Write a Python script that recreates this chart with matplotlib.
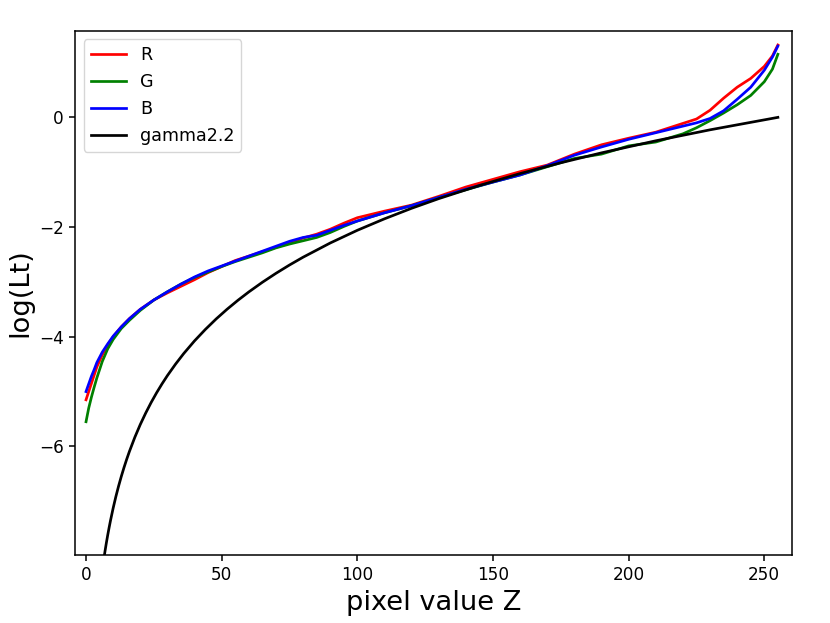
import numpy as np
import matplotlib
matplotlib.use('Agg')
import matplotlib.pyplot as plt

# valores de pixel donde se leyeron las curvas
z = [0, 1, 2, 3, 4, 6, 8, 10, 13, 16, 20, 25, 30, 35, 40, 45, 50, 55, 60, 65, 70, 75,
     80, 85, 90, 95, 100, 110, 120, 130, 140, 150, 160, 170, 180, 190, 200, 210,
     220, 225, 230, 235, 240, 245, 250, 253, 255]

log_r = [-5.15, -5.00, -4.85, -4.70, -4.55, -4.33, -4.15, -4.00, -3.82, -3.67, -3.50, -3.33,
         -3.20, -3.08, -2.96, -2.83, -2.72, -2.61, -2.53, -2.45, -2.37, -2.29,
         -2.20, -2.13, -2.04, -1.93, -1.83, -1.71, -1.60, -1.44, -1.27, -1.13,
         -0.99, -0.87, -0.67, -0.50, -0.38, -0.27, -0.11, -0.03, 0.13, 0.35,
         0.55, 0.71, 0.93, 1.12, 1.32]

log_g = [-5.55, -5.30, -5.10, -4.92, -4.75, -4.45, -4.22, -4.05, -3.85, -3.70, -3.52, -3.33,
         -3.18, -3.04, -2.92, -2.82, -2.72, -2.63, -2.55, -2.47, -2.38, -2.31,
         -2.25, -2.19, -2.10, -1.99, -1.89, -1.74, -1.61, -1.46, -1.32, -1.18,
         -1.05, -0.90, -0.75, -0.67, -0.52, -0.45, -0.30, -0.19, -0.06, 0.08,
         0.23, 0.40, 0.65, 0.88, 1.15]

log_b = [-5.00, -4.86, -4.72, -4.60, -4.47, -4.28, -4.13, -3.99, -3.82, -3.67, -3.50, -3.33,
         -3.18, -3.04, -2.91, -2.80, -2.71, -2.62, -2.53, -2.44, -2.35, -2.26,
         -2.19, -2.15, -2.06, -1.97, -1.89, -1.74, -1.61, -1.46, -1.31, -1.18,
         -1.05, -0.88, -0.69, -0.54, -0.40, -0.28, -0.16, -0.10, -0.02, 0.12,
         0.33, 0.55, 0.86, 1.10, 1.30]

# curva gamma 2.2
z_gamma = [6, 6.5, 7, 7.5, 8, 8.5, 9, 10, 11, 12, 13, 14, 15, 16, 18, 20, 22, 24,
           26, 28, 30, 33, 36, 40, 44, 48, 52, 56, 60, 65, 70, 75, 80, 90, 100,
           110, 120, 130, 145, 160, 175, 190, 210, 230, 255]
log_gamma = [-8.249, -8.073, -7.910, -7.758, -7.616, -7.483, -7.357, -7.125,
             -6.915, -6.724, -6.548, -6.385, -6.233, -6.091, -5.832, -5.600,
             -5.391, -5.199, -5.023, -4.860, -4.708, -4.499, -4.307, -4.075,
             -3.866, -3.674, -3.498, -3.335, -3.183, -3.007, -2.844, -2.692,
             -2.550, -2.291, -2.059, -1.850, -1.658, -1.482, -1.242, -1.025,
             -0.828, -0.647, -0.427, -0.227, 0.0]

fig = plt.figure(figsize=(8.3, 6.23), dpi=100)
ax = fig.add_axes([0.0904, 0.1087, 0.9542 - 0.0904, 0.9507 - 0.1087])

lw = 1.95
ax.plot(z, log_r, color='red', lw=lw, label='R')
ax.plot(z, log_g, color='green', lw=lw, label='G')
ax.plot(z, log_b, color='blue', lw=lw, label='B')
ax.plot(z_gamma, log_gamma, color='black', lw=lw, label='gamma2.2')

ax.set_xlim(-4.05, 260.2)
ax.set_ylim(-7.985, 1.58)
ax.set_xticks([0, 50, 100, 150, 200, 250])
ax.set_yticks([0, -2, -4, -6])
ax.tick_params(labelsize=12.2, width=1.1, length=4.5)
for s in ax.spines.values():
    s.set_linewidth(1.1)

ax.set_xlabel('pixel value Z', fontsize=19.6)
ax.set_ylabel('log(Lt)', fontsize=19.6)
ax.legend(loc='upper left', fontsize=12.6)

fig.savefig('out.png', dpi=100)
